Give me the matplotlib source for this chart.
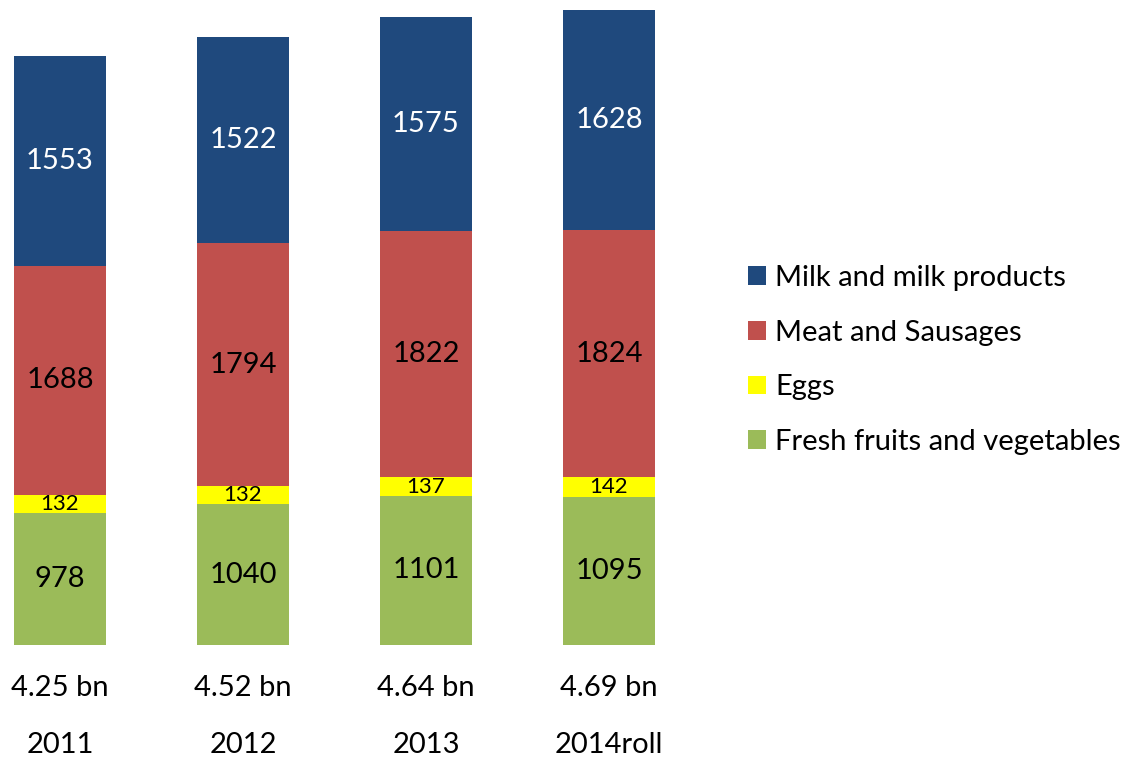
import matplotlib
matplotlib.use('Agg')
from matplotlib import pyplot as plt
from matplotlib.transforms import blended_transform_factory
import numpy as np

years = ['2011', '2012', '2013', '2014roll']
totals = ['4.25 bn', '4.52 bn', '4.64 bn', '4.69 bn']
fruits = [978, 1040, 1101, 1095]
eggs = [132, 132, 137, 142]
meat = [1688, 1794, 1822, 1824]
milk = [1553, 1522, 1575, 1628]

series = [
    ('Fresh fruits and vegetables', fruits, '#9BBB59', 'black', 21),
    ('Eggs', eggs, '#FFFF00', 'black', 16),
    ('Meat and Sausages', meat, '#C0504D', 'black', 21),
    ('Milk and milk products', milk, '#1F497D', 'white', 21),
]

plt.rcParams['font.family'] = ['Lato', 'DejaVu Sans']

fig = plt.figure(figsize=(11.29, 7.62), dpi=100)
ax = fig.add_axes([0, 117 / 762, 660 / 1129, 645 / 762])

x = np.arange(len(years))
bottom = np.zeros(len(years))
handles = []
for name, vals, color, tcolor, fs in series:
    vals = np.array(vals, dtype=float)
    b = ax.bar(x, vals, width=92 / 183, bottom=bottom, color=color, label=name)
    handles.append(b)
    for xi, v, b0 in zip(x, vals, bottom):
        ax.text(xi, b0 + v / 2, str(int(v)), ha='center', va='center',
                color=tcolor, fontsize=fs)
    bottom += vals

ax.set_xlim(-60 / 183, 600 / 183)
ax.set_ylim(0, 645 / 0.13543)
ax.axis('off')

tr = blended_transform_factory(ax.transData, fig.transFigure)
for xi, t, y in zip(x, totals, years):
    ax.text(xi, 1 - 688 / 762, t, ha='center', va='center', fontsize=21,
            transform=tr, clip_on=False)
    ax.text(xi, 1 - 745 / 762, y, ha='center', va='center', fontsize=21,
            transform=tr, clip_on=False)

fig.legend(handles[::-1], [s[0] for s in series][::-1],
           loc='center left', bbox_to_anchor=(722 / 1129, 1 - 360 / 762),
           frameon=False, fontsize=21, handlelength=0.62, handleheight=0.62,
           handletextpad=0.3, labelspacing=0.98)

fig.savefig('out.png', dpi=100)
